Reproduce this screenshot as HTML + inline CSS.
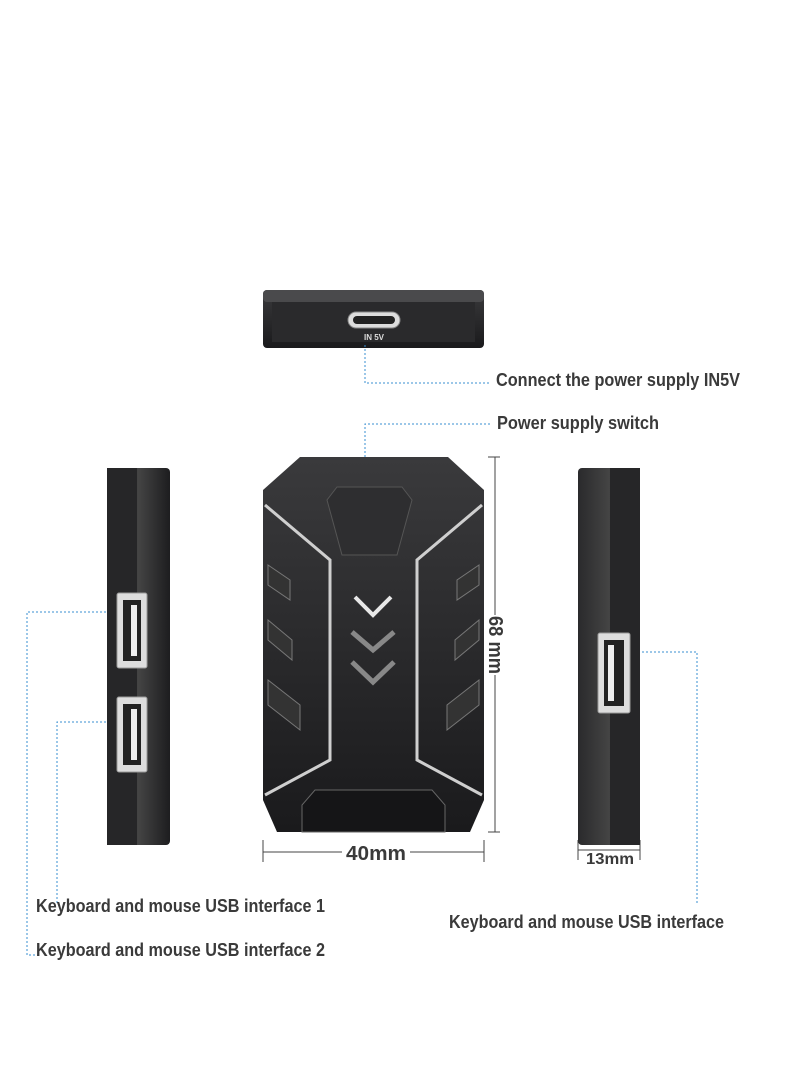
<!DOCTYPE html>
<html><head><meta charset="utf-8"><style>
html,body{margin:0;padding:0;background:#fff;}
svg{display:block}
text{font-family:"Liberation Sans Narrow","Liberation Sans",sans-serif;font-weight:bold;fill:#3a3a3a}
</style></head><body>
<svg width="800" height="1091" viewBox="0 0 800 1091" xmlns="http://www.w3.org/2000/svg">
<defs>
<linearGradient id="g1" x1="0" y1="0" x2="0" y2="1"><stop offset="0" stop-color="#3a3a3c"/><stop offset="1" stop-color="#1a1a1c"/></linearGradient>
<linearGradient id="gs" x1="0" y1="0" x2="1" y2="0"><stop offset="0" stop-color="#2a2a2c"/><stop offset="0.5" stop-color="#444"/><stop offset="1" stop-color="#1d1d1f"/></linearGradient>
</defs>
<rect x="263" y="290" width="221" height="58" rx="4" fill="url(#g1)"/>
<rect x="263" y="290" width="221" height="12" rx="4" fill="#4a4a4c"/>
<rect x="272" y="302" width="203" height="40" fill="#2a2a2c"/>
<rect x="348" y="312" width="52" height="16" rx="8" fill="#ddd" stroke="#888"/>
<rect x="353" y="316" width="42" height="8" rx="4" fill="#222"/>
<text x="374" y="340" font-size="8" text-anchor="middle" style="fill:#ddd">IN 5V</text>
<g stroke="#3a8fd0" stroke-width="1" stroke-dasharray="2,2" fill="none">
<path d="M365 345 V383 H490"/>
<path d="M365 497 V424 H490"/>
<path d="M122 612 H27 V955 H40"/>
<path d="M122 722 H57 V905"/>
<path d="M630 652 H697 V905"/>
</g>
<circle cx="365" cy="497" r="2.5" fill="#3a8fd0"/>
<text x="496" y="386" font-size="18" textLength="244" lengthAdjust="spacingAndGlyphs">Connect the power supply IN5V</text>
<text x="497" y="429" font-size="18" textLength="162" lengthAdjust="spacingAndGlyphs">Power supply switch</text>
<path d="M300 457 H448 L484 490 V800 L470 832 H277 L263 800 V490 Z" fill="url(#g1)"/>
<path d="M337 487 H402 L412 500 L397 555 H342 L327 500 Z" fill="#2e2e30" stroke="#555"/>
<path d="M265 505 L330 560 L330 760 L265 795" fill="none" stroke="#cfcfcf" stroke-width="3"/>
<path d="M482 505 L417 560 L417 760 L482 795" fill="none" stroke="#cfcfcf" stroke-width="3"/>
<path d="M355 597 L373 615 L391 597" fill="none" stroke="#e8e8e8" stroke-width="4"/>
<path d="M352 632 L373 650 L394 632 M352 662 L373 682 L394 662" fill="none" stroke="#888" stroke-width="5"/>
<path d="M268 565 L290 580 V600 L268 585Z M268 620 L292 640 V660 L268 640Z M268 680 L300 705 V730 L268 705Z" fill="#333" stroke="#777"/>
<path d="M479 565 L457 580 V600 L479 585Z M479 620 L455 640 V660 L479 640Z M479 680 L447 705 V730 L479 705Z" fill="#333" stroke="#777"/>
<path d="M315 790 H432 L445 805 V832 H302 V805 Z" fill="#151517" stroke="#666"/>
<g stroke="#444" stroke-width="1">
<path d="M488 457 H500 M488 832 H500 M495 457 V615 M495 675 V832"/>
<path d="M263 840 V862 M484 840 V862 M263 852 H342 M410 852 H484"/>
<path d="M578 840 V860 M640 840 V860 M578 850 H640"/>
</g>
<text x="376" y="860" font-size="20" text-anchor="middle" textLength="60" lengthAdjust="spacingAndGlyphs">40mm</text>
<text x="0" y="0" font-size="20" text-anchor="middle" textLength="58" lengthAdjust="spacingAndGlyphs" transform="translate(489 645) rotate(90)">68 mm</text>
<text x="610" y="864" font-size="16" text-anchor="middle" textLength="48" lengthAdjust="spacingAndGlyphs">13mm</text>
<rect x="107" y="468" width="63" height="377" rx="4" fill="url(#gs)"/>
<rect x="107" y="468" width="30" height="377" fill="#262628"/>
<g fill="#ddd" stroke="#999">
<rect x="117" y="593" width="30" height="75" rx="2"/><rect x="117" y="697" width="30" height="75" rx="2"/>
</g>
<rect x="123" y="600" width="18" height="61" fill="#222"/><rect x="123" y="704" width="18" height="61" fill="#222"/>
<rect x="131" y="605" width="6" height="51" fill="#eee"/><rect x="131" y="709" width="6" height="51" fill="#eee"/>
<rect x="578" y="468" width="62" height="377" rx="4" fill="url(#gs)"/>
<rect x="610" y="468" width="30" height="377" fill="#262628"/>
<rect x="598" y="633" width="32" height="80" rx="2" fill="#ddd" stroke="#999"/>
<rect x="604" y="640" width="20" height="66" fill="#222"/>
<rect x="608" y="645" width="6" height="56" fill="#eee"/>
<text x="36" y="912" font-size="18" textLength="289" lengthAdjust="spacingAndGlyphs">Keyboard and mouse USB interface 1</text>
<text x="36" y="956" font-size="18" textLength="289" lengthAdjust="spacingAndGlyphs">Keyboard and mouse USB interface 2</text>
<text x="449" y="928" font-size="18" textLength="275" lengthAdjust="spacingAndGlyphs">Keyboard and mouse USB interface</text>
</svg>
</body></html>
